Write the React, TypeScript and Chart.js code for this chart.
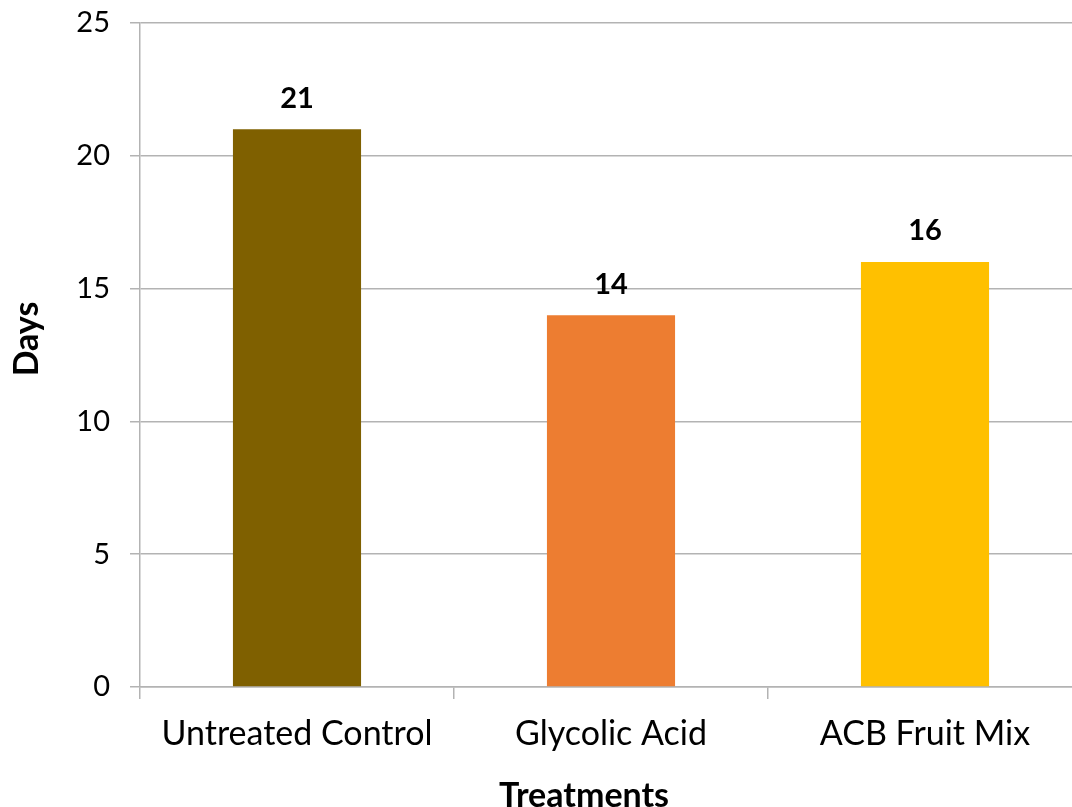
import React, { useEffect, useRef } from "react";
import { Chart, registerables } from "chart.js";

Chart.register(...registerables);

const categories = ["Untreated Control", "Glycolic Acid", "ACB Fruit Mix"];
const days = [21, 14, 16];
const barColors = ["#7F6000", "#ED7D31", "#FFC000"];
const yTicks = [0, 5, 10, 15, 20, 25];
const xTitle = "Treatments";
const yTitle = "Days";

const FONT = "Lato, 'Open Sans', sans-serif";
const GRID = "#B3B3B3";

const overlayPlugin = {
  id: "overlay",
  afterDatasetsDraw(chart: any) {
    const ctx = chart.ctx;
    const meta = chart.getDatasetMeta(0);
    ctx.save();
    ctx.fillStyle = "#000";
    ctx.font = `bold 29px ${FONT}`;
    ctx.textAlign = "center";
    ctx.textBaseline = "middle";
    meta.data.forEach((bar: any, i: number) => {
      ctx.fillText(String(days[i]), bar.x, bar.y - 31);
    });
    // axis titles
    ctx.font = `bold 34px ${FONT}`;
    ctx.fillText(xTitle, 584, 796);
    ctx.translate(27, 339);
    ctx.rotate(-Math.PI / 2);
    ctx.fillText(yTitle, 0, 0);
    ctx.restore();
  },
};

export default function App() {
  const ref = useRef<HTMLCanvasElement>(null);
  useEffect(() => {
    if (!ref.current) return;
    const chart = new Chart(ref.current, {
      type: "bar",
      data: {
        labels: categories,
        datasets: [
          {
            data: days,
            backgroundColor: barColors,
            borderWidth: 0,
            categoryPercentage: 1,
            barPercentage: 0.408,
          },
        ],
      },
      options: {
        responsive: false,
        animation: false,
        devicePixelRatio: 1,
        layout: { padding: { top: 23, right: 10, left: 0, bottom: 0 } },
        plugins: {
          legend: { display: false },
          tooltip: { enabled: false },
        },
        scales: {
          x: {
            afterFit(scale: any) {
              scale.height = 120;
              scale.paddingLeft = 0;
              scale.paddingRight = 0;
            },
            grid: {
              offset: true,
              drawOnChartArea: false,
              drawTicks: true,
              tickLength: 12,
              color: GRID,
              lineWidth: 1.5,
            },
            border: { display: true, color: GRID, width: 1.5 },
            ticks: {
              color: "#000",
              font: { family: FONT, size: 34 },
              padding: 15,
              maxRotation: 0,
              autoSkip: false,
            },
          },
          y: {
            min: 0,
            max: 25,
            afterFit(scale: any) {
              scale.width = 140;
              scale.paddingTop = 0;
              scale.paddingBottom = 0;
            },
            afterBuildTicks(scale: any) {
              scale.ticks = yTicks.map((v) => ({ value: v }));
            },
            grid: {
              color: GRID,
              lineWidth: 1.5,
              tickLength: 10,
            },
            border: { display: true, color: GRID, width: 1.5 },
            ticks: {
              color: "#000",
              font: { family: FONT, size: 29 },
              padding: 20,
            },
          },
        },
      },
      plugins: [overlayPlugin],
    });
    return () => chart.destroy();
  }, []);
  return (
    <div
      style={{
        position: "absolute",
        left: 0,
        top: 0,
        width: 1072,
        height: 807,
        overflow: "hidden",
        background: "#fff",
      }}
    >
      <canvas ref={ref} width={1092} height={807} style={{ display: "block" }} />
    </div>
  );
}
